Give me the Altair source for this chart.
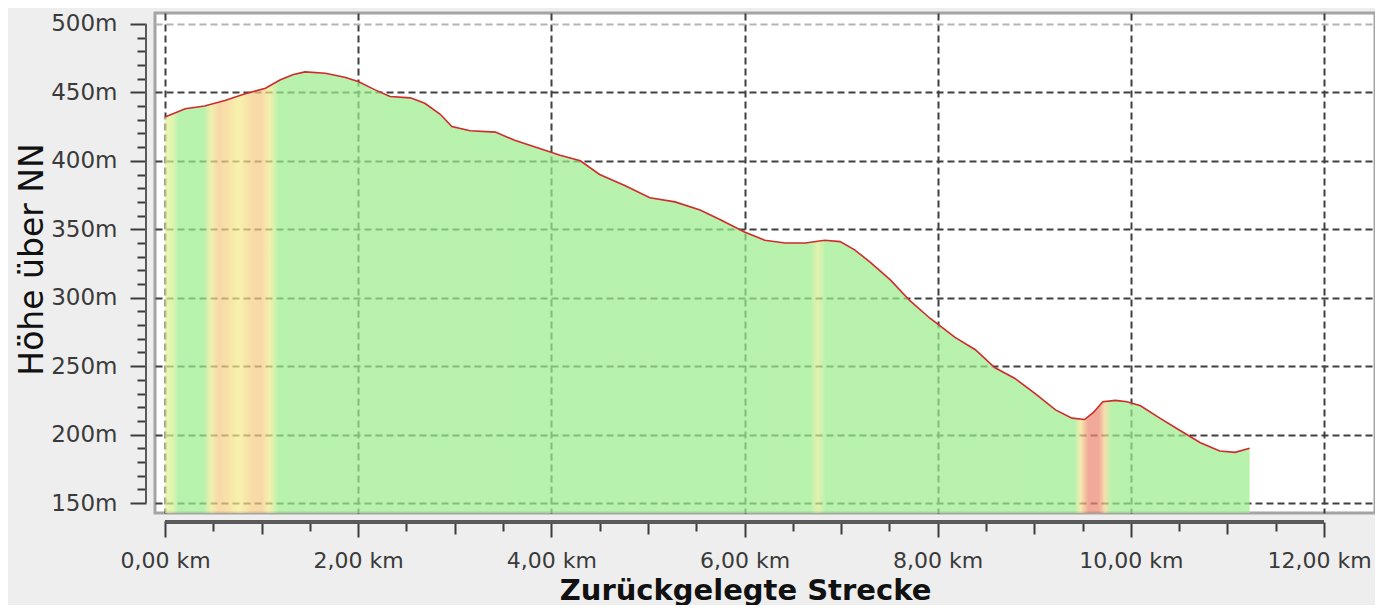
import altair as alt
import pandas as pd

# ---- profile data (distance in km, elevation in m) ----
km = [0.00, 0.21, 0.41, 0.62, 0.83, 1.04, 1.19, 1.33, 1.45, 1.66, 1.86, 2.00,
      2.17, 2.33, 2.54, 2.69, 2.85, 2.97, 3.16, 3.42, 3.62, 3.88, 4.09, 4.30,
      4.50, 4.76, 5.02, 5.28, 5.54, 5.75, 6.00, 6.21, 6.42, 6.63, 6.83, 6.99,
      7.14, 7.30, 7.51, 7.71, 7.92, 8.18, 8.39, 8.59, 8.80, 9.01, 9.22, 9.39,
      9.52, 9.61, 9.71, 9.84, 9.96, 10.10, 10.30, 10.51, 10.72, 10.92, 11.08, 11.23]
elev = [432, 438, 440, 444, 449, 453, 459, 463, 465, 464, 461, 458,
        452, 447, 446, 442, 434, 425, 422, 421, 415, 409, 404, 400,
        390, 382, 373, 370, 364, 357, 348, 342, 340, 340, 342, 341,
        335, 326, 313, 298, 285, 271, 262, 249, 241, 230, 218, 212,
        211, 216, 224, 225, 224, 221, 212, 203, 194, 188, 187, 190]

# ---- slope colouring bands along the track (km, displayed colour) ----
band_km = [0.00, 0.08, 0.14, 0.40, 0.48, 0.56, 0.66, 0.76, 0.90, 1.00, 1.08, 1.18,
           6.68, 6.76, 6.84, 9.42, 9.48, 9.56, 9.67, 9.73, 9.80, 11.23]
band_colors = ["#eef5b5", "#e0f5b0", "#b8f2ae", "#b8f2ae", "#f2f0ae", "#f8d8a8",
               "#f8e2a8", "#f8f2ae", "#f8dca8", "#f8d8a8", "#f5f0ae", "#b8f2ae",
               "#b8f2ae", "#e2f2ae", "#b8f2ae", "#b8f2ae", "#f5eaae", "#f2aa98",
               "#f2aa98", "#f5e0ae", "#b8f2ae", "#b8f2ae"]

# ---- axis ticks ----
x_ticks = [i * 0.5 for i in range(25)]        # 0 .. 12 km
y_ticks = list(range(150, 501, 10))           # 150 .. 500 m

X_DOMAIN = [-0.1035, 12.528]
Y_DOMAIN = [142.7, 508.0]
W, H = 1220, 500
AX_OFF = 9
FILL_OPACITY = 0.72
FONT = "DejaVu Sans"


def under(hexc, a=FILL_OPACITY):
    h = hexc.lstrip("#")
    rgb = [int(h[i:i + 2], 16) for i in (0, 2, 4)]
    out = [max(0, min(255, round((c - (1 - a) * 255) / a))) for c in rgb]
    return "#%02x%02x%02x" % tuple(out)


stops = [alt.GradientStop(color=under(c), offset=k / km[-1])
         for k, c in zip(band_km, band_colors)]
gradient = alt.Gradient(gradient="linear", stops=stops, x1=0, x2=1, y1=0, y2=0)

df = pd.DataFrame({"km": km, "elev": elev})

xscale = alt.Scale(domain=X_DOMAIN, nice=False, zero=False)
yscale = alt.Scale(domain=Y_DOMAIN, nice=False, zero=False)

x_axis = alt.Axis(
    values=x_ticks, tickCount=200, offset=AX_OFF, domain=False,
    tickColor="#3c3c3c", tickWidth=2,
    tickSize={"condition": [{"test": "datum.value % 2 === 0", "value": 15},
                            {"test": "datum.value % 1 === 0", "value": 12}],
              "value": 9},
    labelExpr="datum.value % 2 === 0 ? replace(format(datum.value, '.2f'), '.', ',') + ' km' : ''",
    labelFont=FONT, labelFontSize=22, labelColor="#3a3a3a", labelPadding=13,
    labelFlush=False, labelOverlap=False,
    labelOffset={"condition": {"test": "datum.value === 12", "value": -5}, "value": 0},
    grid=True, gridColor="#404040", gridDash=[7, 4], gridWidth=2,
    gridOpacity={"condition": {"test": "datum.value % 2 === 0", "value": 1}, "value": 0},
    title="Zurückgelegte Strecke", titleFont=FONT, titleFontSize=29,
    titleFontWeight="bold", titleColor="#111111",
    titleX=590, titleY=77, titleAlign="center", titleBaseline="alphabetic",
)

y_axis = alt.Axis(
    values=y_ticks, tickCount=200, offset=AX_OFF, domain=False,
    tickColor="#3c3c3c", tickWidth=2,
    tickSize={"condition": {"test": "datum.value % 50 === 0", "value": 16}, "value": 9},
    labelExpr="datum.value % 50 === 0 ? datum.value + 'm' : ''",
    labelFont=FONT, labelFontSize=23, labelColor="#3a3a3a", labelPadding=13,
    labelOverlap=False,
    grid=True, gridDash=[7, 4], gridWidth=2,
    gridColor={"condition": {"test": "datum.value === 500", "value": "#b4b4b4"}, "value": "#404040"},
    gridOpacity={"condition": {"test": "datum.value % 50 === 0", "value": 1}, "value": 0},
    title="Höhe über NN", titleFont=FONT, titleFontSize=33, titleFontWeight="normal",
    titleColor="#111111", titleAngle=270,
    titleX=-104, titleY=246, titleAlign="center", titleBaseline="alphabetic",
)

area = alt.Chart(df).mark_area(
    color=gradient, fillOpacity=FILL_OPACITY, interpolate="linear"
).encode(
    x=alt.X("km:Q", scale=xscale, axis=x_axis),
    y=alt.Y("elev:Q", scale=yscale, axis=y_axis),
    y2=alt.Y2Datum(Y_DOMAIN[0]),
)

line = alt.Chart(df).mark_line(color="#d02a2a", strokeWidth=1.6).encode(
    x="km:Q", y="elev:Q"
)

x_domain_line = alt.Chart(df).mark_rule(color="#5a5a5a", strokeWidth=2.5).encode(
    x=alt.XDatum(x_ticks[0]), x2=alt.X2Datum(x_ticks[-1]), y=alt.value(H + AX_OFF)
)
y_domain_line = alt.Chart(df).mark_rule(color="#5a5a5a", strokeWidth=2).encode(
    y=alt.YDatum(y_ticks[0]), y2=alt.Y2Datum(y_ticks[-1]), x=alt.value(-AX_OFF)
)

chart = alt.layer(area, line, x_domain_line, y_domain_line).properties(
    width=W, height=H,
    autosize=alt.AutoSizeParams(type="none"),
    padding={"left": 147, "top": 5, "right": 0, "bottom": 92},
    background="#eeeeee",
).configure_view(fill="white", stroke="#a4a4a4", strokeWidth=3)

chart.save("out.html", embed_options={"renderer": "svg", "actions": False})
